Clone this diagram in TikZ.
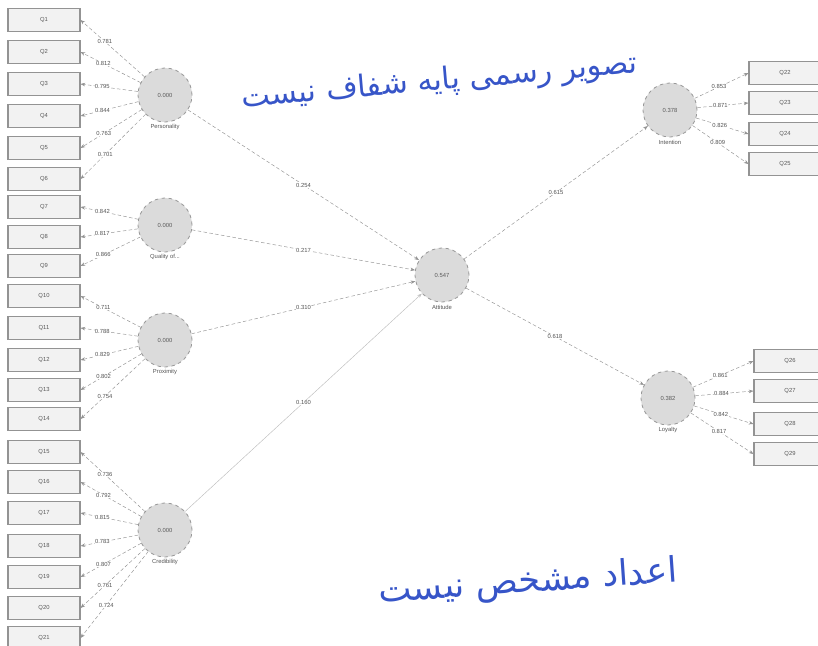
\documentclass[tikz,border=0pt]{standalone}
\usepackage{fontspec}
\setmainfont{Liberation Sans}
\newfontfamily\arabicfont[Script=Arabic]{DejaVu Sans}
\TeXXeTstate=1
\usetikzlibrary{arrows.meta}
\definecolor{inkblue}{RGB}{55,85,200}

\begin{document}
\begin{tikzpicture}[x=0.03cm,y=-0.03cm,font=\fontsize{5}{6}\selectfont]
	\tikzstyle{latent}=[circle,fill=gray!28,draw=gray!80,dashed,line width=0.7pt,minimum size=1.62cm,inner sep=0pt,text=gray!70!black]
	\tikzstyle{item}=[rectangle,fill=gray!10,draw=gray!85,line width=0.9pt,minimum width=2.16cm,minimum height=0.7cm,text=gray!70!black]
	\tikzstyle{path}=[draw=gray!85,densely dashed,-{Stealth[length=4pt,width=3pt]}]
	\tikzstyle{coef}=[fill=white,inner sep=0.4pt,text=gray!65!black]
	\tikzstyle{lvname}=[text=gray!65!black]
	\tikzstyle{note}=[text=inkblue,font=\arabicfont\fontsize{26}{30}\selectfont]
	\clip (0,0) rectangle (818,645);
	% latent variables
	\node[latent] (pers) at (165,95) {0.000};
	\node[lvname] (perslbl) at (165,127) {Personality};
	\node[latent] (qual) at (165,225) {0.000};
	\node[lvname] (quallbl) at (165,257) {Quality of...};
	\node[latent] (prox) at (165,340) {0.000};
	\node[lvname] (proxlbl) at (165,372) {Proximity};
	\node[latent] (cred) at (165,530) {0.000};
	\node[lvname] (credlbl) at (165,562) {Credibility};
	\node[latent] (att) at (442,275) {0.547};
	\node[lvname] (attlbl) at (442,307) {Attitude};
	\node[latent] (int) at (670,110) {0.378};
	\node[lvname] (intlbl) at (670,142) {Intention};
	\node[latent] (loy) at (668,398) {0.382};
	\node[lvname] (loylbl) at (668,430) {Loyalty};
	% indicators
	\foreach \n/\y in {1/20,2/52,3/84,4/116,5/148,6/179,7/207,8/237,9/266,10/296,11/328,
		12/360,13/390,14/419,15/452,16/482,17/513,18/546,19/577,20/608,21/638}
		\node[item] (q\n) at (44,\y) {Q\n};
	\foreach \n/\y in {22/73,23/103,24/134,25/164}
		\node[item] (q\n) at (785,\y) {Q\n};
	\foreach \n/\y in {26/361,27/391,28/424,29/454}
		\node[item] (q\n) at (790,\y) {Q\n};
	% outer model
	\foreach \n/\v in {1/0.781,2/0.812,3/0.795,4/0.844,5/0.763,6/0.701}
		\draw[path] (pers) -- node[coef,pos=0.62] {\v} (q\n.east);
	\foreach \n/\v in {7/0.842,8/0.817,9/0.866}
		\draw[path] (qual) -- node[coef,pos=0.62] {\v} (q\n.east);
	\foreach \n/\v in {10/0.711,11/0.788,12/0.829,13/0.802,14/0.754}
		\draw[path] (prox) -- node[coef,pos=0.62] {\v} (q\n.east);
	\foreach \n/\v in {15/0.736,16/0.792,17/0.815,18/0.783,19/0.807,20/0.761,21/0.724}
		\draw[path] (cred) -- node[coef,pos=0.62] {\v} (q\n.east);
	\foreach \n/\v in {22/0.853,23/0.871,24/0.826,25/0.809}
		\draw[path] (int) -- node[coef,pos=0.45] {\v} (q\n.west);
	\foreach \n/\v in {26/0.861,27/0.884,28/0.842,29/0.817}
		\draw[path] (loy) -- node[coef,pos=0.45] {\v} (q\n.west);
	% inner model
	\draw[path] (pers) -- node[coef] {0.254} (att);
	\draw[path] (qual) -- node[coef] {0.217} (att);
	\draw[path] (prox) -- node[coef] {0.310} (att);
	\draw[path,solid,draw=gray!50] (cred) -- node[coef] {0.160} (att);
	\draw[path] (att) -- node[coef] {0.615} (int);
	\draw[path] (att) -- node[coef] {0.618} (loy);
	% handwritten notes
	\node[note,rotate=5] (topnote) at (440,82) {\beginR تصویر رسمی پایه شفاف نیست\endR};
	\node[note,rotate=4,font=\arabicfont\fontsize{30}{34}\selectfont] (botnote) at (528,583) {\beginR اعداد مشخص نیست\endR};
\end{tikzpicture}
\end{document}
